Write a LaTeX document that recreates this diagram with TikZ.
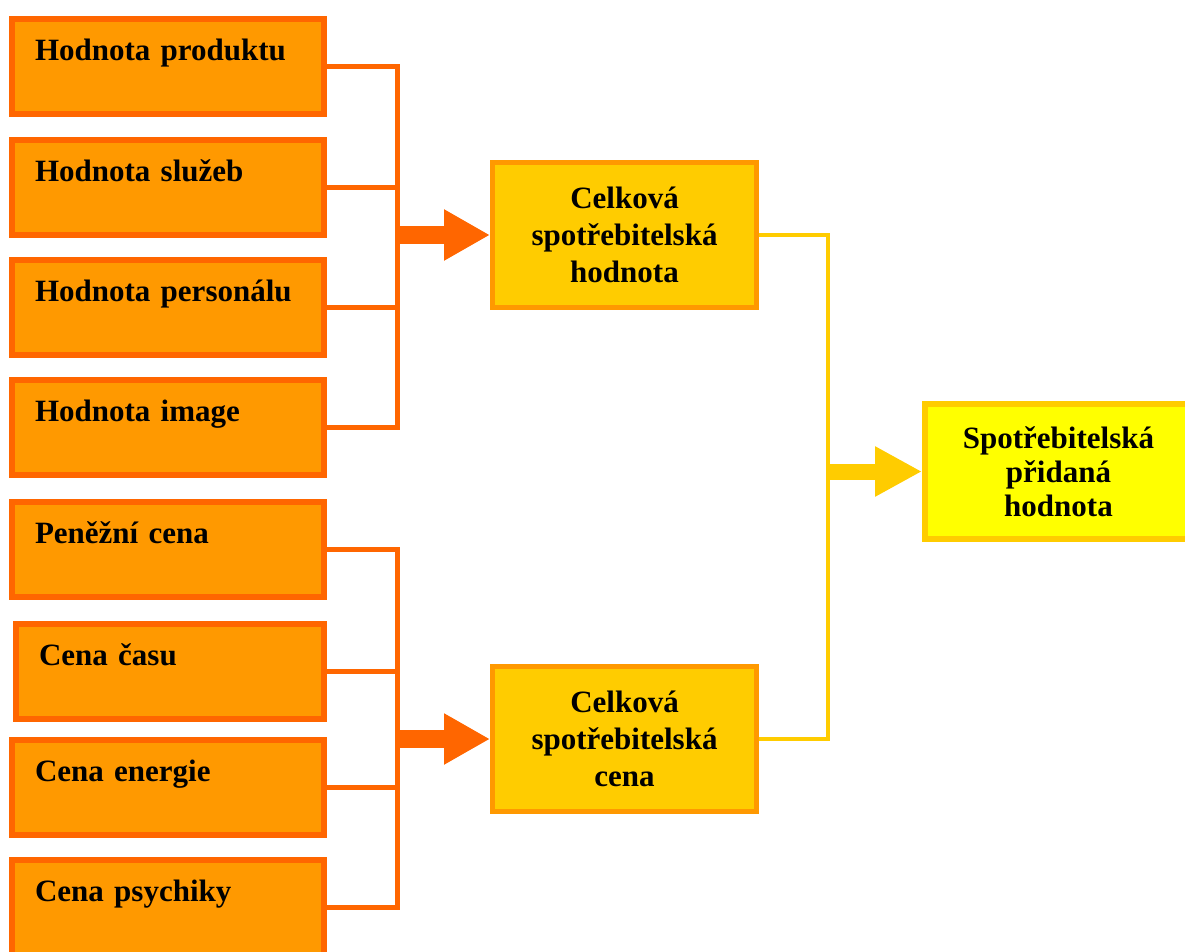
\documentclass[tikz,border=0pt]{standalone}
\usepackage{fontspec}
\setmainfont{Liberation Serif}
\usetikzlibrary{arrows.meta}
\definecolor{orangefill}{HTML}{FF9900}
\definecolor{orangeedge}{HTML}{FF6600}
\definecolor{goldfill}{HTML}{FFCC00}
\definecolor{lemonfill}{HTML}{FFFF00}
\begin{document}
\begin{tikzpicture}[x=1pt,y=-1pt,
  itembox/.style={draw=orangeedge, fill=orangefill, line width=6pt,
    anchor=north west, inner xsep=23pt, inner ysep=0pt,
    text width=266pt, align=left, text height=41pt, text depth=54pt,
    font=\fontsize{31}{36}\selectfont\bfseries},
  midbox/.style={draw=orangefill, fill=goldfill, line width=5pt,
    minimum width=264pt, minimum height=145pt, inner sep=0pt,
    align=center, font=\fontsize{31}{37}\selectfont\bfseries},
  endbox/.style={draw=goldfill, fill=lemonfill, line width=6pt,
    anchor=west, minimum width=320pt, minimum height=135pt, inner sep=0pt,
    font=\fontsize{31}{34}\selectfont\bfseries},
  orangeline/.style={draw=orangeedge, line width=5pt},
  orangearrow/.style={draw=orangeedge, line width=18pt,
    -{Triangle[length=46pt,width=48pt]}},
  goldline/.style={draw=goldfill, line width=4.5pt},
  goldarrow/.style={draw=goldfill, line width=16pt,
    -{Triangle[length=47pt,width=47pt]}}
]
\useasboundingbox (0,0) rectangle (1185,951);
\clip (0,0) rectangle (1185,951);

% value components
\node[itembox] (b1) at (9,16)  {Hodnota produktu};
\node[itembox] (b2) at (9,137) {Hodnota služeb};
\node[itembox] (b3) at (9,257) {Hodnota personálu};
\node[itembox] (b4) at (9,377) {Hodnota image};

% cost components
\node[itembox] (b5) at (9,499) {Peněžní cena};
\node[itembox, text width=262pt] (b6) at (13,621) {Cena času};
\node[itembox] (b7) at (9,737) {Cena energie};
\node[itembox] (b8) at (9,857) {Cena psychiky};

% totals
\node[midbox] (m1) at (624.5,235) {Celková\\spotřebitelská\\hodnota};
\node[midbox] (m2) at (624.5,739) {Celková\\spotřebitelská\\cena};

% result (box runs past the right margin, text centred in its visible part)
\node[endbox] (r) at (922,471.5)
  {\makebox[320pt][l]{\parbox[c]{267pt}{\centering Spotřebitelská\\přidaná\\hodnota}}};

% bus lines
\coordinate (busA) at (397,0);
\coordinate (busC) at (828,0);

\draw[orangeline, line join=miter] (b1.east) -- (b1.east -| busA) -- (b4.east -| busA) -- (b4.east);
\draw[orangeline] (b2.east) -- (b2.east -| busA);
\draw[orangeline] (b3.east) -- (b3.east -| busA);
\draw[orangearrow] (m1.west -| busA) -- (m1.west);

\draw[orangeline, line join=miter] (b5.east) -- (b5.east -| busA) -- (b8.east -| busA) -- (b8.east);
\draw[orangeline] (b6.east) -- (b6.east -| busA);
\draw[orangeline] (b7.east) -- (b7.east -| busA);
\draw[orangearrow] (m2.west -| busA) -- (m2.west);

\draw[goldline, line join=miter] (m1.east) -- (m1.east -| busC) -- (m2.east -| busC) -- (m2.east);
\draw[goldarrow] (r.west -| busC) -- (r.west);
\end{tikzpicture}
\end{document}
